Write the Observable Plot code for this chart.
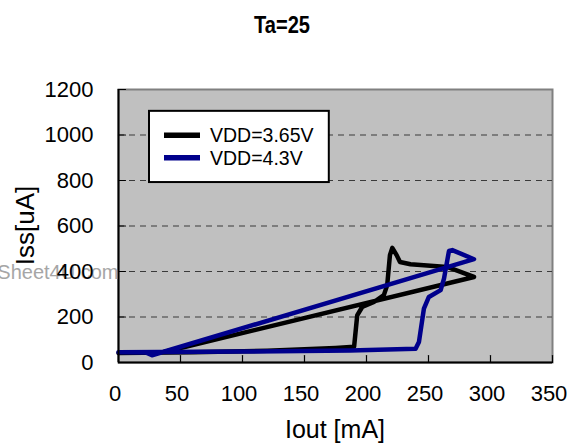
<!DOCTYPE html>
<html>
<head>
<meta charset="utf-8">
<script src="https://cdn.jsdelivr.net/npm/d3@7"></script>
<script src="https://cdn.jsdelivr.net/npm/@observablehq/plot@0.6"></script>
<style>
  body { margin: 0; background: #fff; }
  svg { font-family: "Liberation Sans", Arial, sans-serif; }
</style>
</head>
<body>
<div id="chart"></div>
<script>
// ---- data ----
const title = "Ta=25";
const xLabel = "Iout [mA]";
const yLabel = "Iss[uA]";
const watermark = "Sheet4U.com";
const seriesNames = ["VDD=3.65V", "VDD=4.3V"];
const seriesColors = ["#000000", "#00008c"];
const xTicks = [0, 50, 100, 150, 200, 250, 300, 350];
const yTicks = [0, 200, 400, 600, 800, 1000, 1200];
const gridY = [200, 400, 600, 800, 1000];

// VDD=3.65V loop (Iout mA, Iss uA)
const iout365 = [0, 60, 120, 150, 175, 190, 192.5, 196.5, 206, 214, 216.7, 218.9, 220.8, 224.3, 227, 235.5, 265, 286.7, 35, 0];
const iss365  = [42, 45, 52, 58, 64, 69, 207, 244, 266, 296, 340, 472, 504, 472, 442, 432, 420, 376, 44, 42];
// VDD=4.3V loop
const iout43 = [0, 100, 187, 239.6, 242.3, 246.3, 250.3, 259.8, 262.5, 266.5, 269.2, 286.7, 27, 22, 0];
const iss43  = [45, 48, 53, 60, 90, 237, 288, 318, 369, 490, 494, 454, 32, 44, 45];

const toRows = (xs, ys, s) => xs.map((x, i) => ({x, y: ys[i], s}));
const rows365 = toRows(iout365, iss365, seriesNames[0]);
const rows43 = toRows(iout43, iss43, seriesNames[1]);

const tickShape = { draw(ctx, l) { ctx.moveTo(0, 0); ctx.lineTo(0, -l); } };

const chart = Plot.plot({
  width: 568,
  height: 444,
  marginTop: 89,
  marginBottom: 82,
  marginLeft: 118,
  marginRight: 16,
  style: { fontFamily: '"Liberation Sans", Arial, sans-serif', background: "#fff", color: "#000" },
  x: { domain: [0, 350], ticks: xTicks, label: null },
  y: { domain: [0, 1200], ticks: yTicks, label: null },
  marks: [
    Plot.frame({ fill: "#c0c0c0", stroke: "#808080", strokeWidth: 2 }),
    Plot.ruleY(gridY, { stroke: "#3a3a3a", strokeWidth: 1.2, strokeDasharray: "6,5" }),
    Plot.line(rows365, { x: "x", y: "y", stroke: seriesColors[0], strokeWidth: 4.5, strokeLinejoin: "round", strokeLinecap: "round" }),
    Plot.line(rows43, { x: "x", y: "y", stroke: seriesColors[1], strokeWidth: 4.5, strokeLinejoin: "round", strokeLinecap: "round" }),
    Plot.ruleX([0], { stroke: "#000", strokeWidth: 2 }),
    Plot.ruleY([0], { stroke: "#000", strokeWidth: 2 }),
    Plot.vector(xTicks, { x: d => d, y: 0, length: 7, rotate: 0, anchor: "start", shape: tickShape, stroke: "#000", strokeWidth: 1.2 }),
    Plot.vector(yTicks, { x: 0, y: d => d, length: 7, rotate: 90, anchor: "start", shape: tickShape, stroke: "#000", strokeWidth: 1.2 }),
    Plot.text([watermark], { x: 0, y: 400, textAnchor: "end", fontSize: 20, fill: "#a6a6a6", dy: 1 }),
    Plot.axisX({ ticks: xTicks, tickSize: 0, tickPadding: 23, dx: -3.5, fontSize: 22, label: null, tickFormat: d => String(d) }),
    Plot.axisY({ ticks: yTicks, tickSize: 0, tickPadding: 25, fontSize: 22, label: null, tickFormat: d => String(d) })
  ]
});

document.getElementById("chart").append(chart);

const svg = d3.select(chart);
const sx = chart.scale("x"), sy = chart.scale("y");

// title
svg.append("text")
  .attr("x", 282).attr("y", 32.5)
  .attr("text-anchor", "middle")
  .attr("font-size", 24).attr("font-weight", "bold")
  .attr("textLength", 56).attr("lengthAdjust", "spacingAndGlyphs")
  .text(title);

// x label
svg.append("text")
  .attr("x", (sx.apply(0) + sx.apply(350)) / 2).attr("y", 438)
  .attr("text-anchor", "middle").attr("font-size", 25)
  .text(xLabel);

// y label
const yMid = (sy.apply(0) + sy.apply(1200)) / 2;
svg.append("text")
  .attr("transform", `translate(33.5,${yMid}) rotate(-90)`)
  .attr("text-anchor", "middle").attr("font-size", 26)
  .text(yLabel);

// legend
const lx1 = sx.apply(25), lx2 = sx.apply(170);
const ly1 = sy.apply(1104), ly2 = sy.apply(791);
const lg = svg.append("g").attr("text-anchor", "start");
lg.append("rect")
  .attr("x", lx1).attr("y", ly1)
  .attr("width", lx2 - lx1).attr("height", ly2 - ly1)
  .attr("fill", "#fff").attr("stroke", "#000").attr("stroke-width", 2);
seriesNames.forEach((name, i) => {
  const cy = ly1 + 24.5 + i * 22.5;
  lg.append("line")
    .attr("x1", lx1 + 15).attr("x2", lx1 + 51)
    .attr("y1", cy).attr("y2", cy)
    .attr("stroke", seriesColors[i]).attr("stroke-width", 5.5);
  lg.append("text")
    .attr("x", lx1 + 61).attr("y", cy + 7)
    .attr("text-anchor", "start")
    .attr("font-size", 19.5)
    .text(name);
});
</script>
</body>
</html>
